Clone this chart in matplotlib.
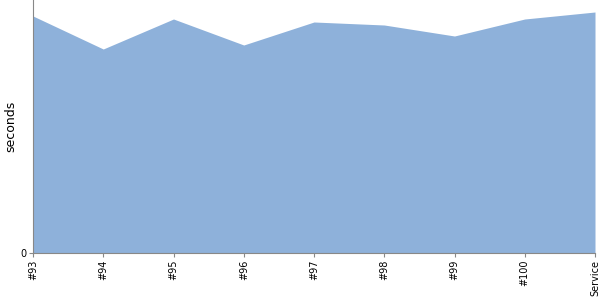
import matplotlib
matplotlib.use("Agg")
import matplotlib.pyplot as plt

categories = ["#93", "#94", "#95", "#96", "#97", "#98", "#99", "#100", "Service"]
values = [237, 204, 234, 208, 231, 228, 217, 234, 241]

fig = plt.figure(figsize=(6, 3), dpi=100)
ax = fig.add_axes([33/600, 47/300, 562/600, 253/300])
x = list(range(len(categories)))
ax.fill_between(x, 0, values, color="#8EB1DA", linewidth=0)
ax.set_xlim(0, len(categories) - 1)
ax.set_ylim(0, 253)
ax.set_yticks([0])
ax.set_yticklabels(["0"], fontsize=7)
ax.set_xticks(x)
ax.set_xticklabels(categories, rotation=90, fontsize=7)
ax.tick_params(axis="both", length=3, color="#888888", pad=2)
fig.text(11/600, 174/300, "seconds", fontsize=9, rotation=90, ha="center", va="center")
for s in ["top", "right"]:
    ax.spines[s].set_visible(False)
for s in ["left", "bottom"]:
    ax.spines[s].set_color("#888888")
fig.savefig("out.png", dpi=100)
